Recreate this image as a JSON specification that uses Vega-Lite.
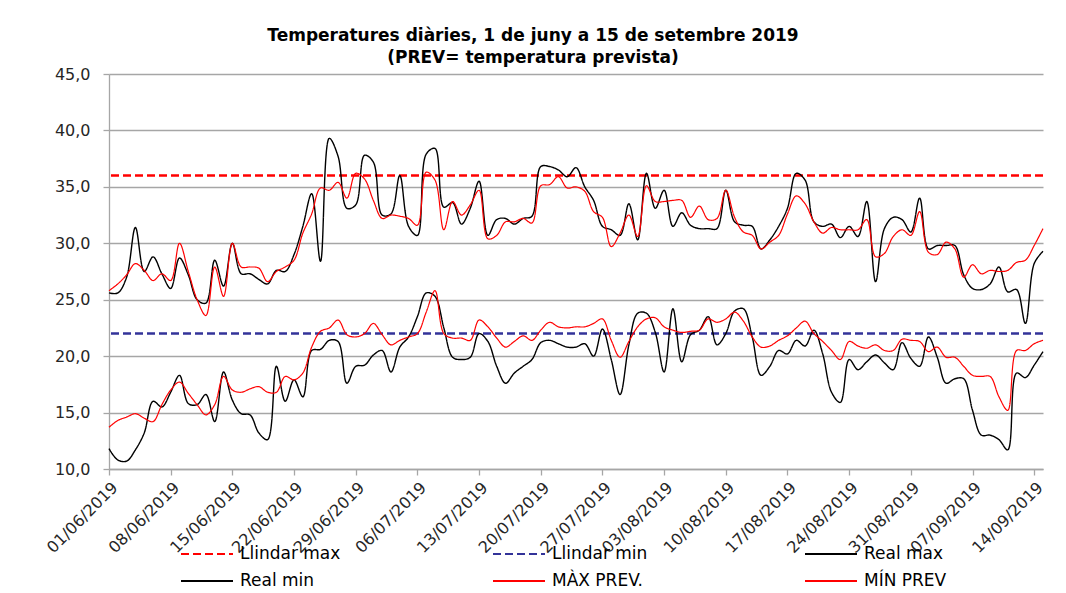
{
  "$schema": "https://vega.github.io/schema/vega-lite/v6.json",
  "autosize": {"type": "none"},
  "padding": {"left": 109, "top": 74, "right": 23, "bottom": 124},
  "width": 934,
  "height": 395,
  "background": "white",
  "title": {
    "text": ["Temperatures diàries, 1 de juny a 15 de setembre 2019", "(PREV= temperatura prevista)"],
    "font": "DejaVu Sans", "fontSize": 17, "fontWeight": "bold", "color": "#000000",
    "anchor": "middle", "dx": -43, "lineHeight": 22, "offset": -1
  },
  "config": {
    "font": "DejaVu Sans",
    "view": {"stroke": null},
    "axis": {"labelFont": "DejaVu Sans", "labelFontSize": 16, "labelColor": "#262626", "domainColor": "#a6a6a6", "tickColor": "#a6a6a6", "gridColor": "#a6a6a6", "domainWidth": 1.3, "tickWidth": 1.3, "gridWidth": 1.3}
  },
  "data": {"values": [
    {"d":"2019-06-01","rmax":25.6,"pmax":25.8,"rmin":11.8,"pmin":13.7},
    {"d":"2019-06-02","rmax":25.6,"pmax":26.4,"rmin":10.8,"pmin":14.3},
    {"d":"2019-06-03","rmax":27.0,"pmax":27.2,"rmin":10.7,"pmin":14.6},
    {"d":"2019-06-04","rmax":31.4,"pmax":28.2,"rmin":11.7,"pmin":14.9},
    {"d":"2019-06-05","rmax":27.5,"pmax":27.6,"rmin":13.2,"pmin":14.5},
    {"d":"2019-06-06","rmax":28.8,"pmax":26.7,"rmin":16.0,"pmin":14.2},
    {"d":"2019-06-07","rmax":27.3,"pmax":27.3,"rmin":15.5,"pmin":15.7},
    {"d":"2019-06-08","rmax":26.0,"pmax":26.7,"rmin":16.8,"pmin":17.0},
    {"d":"2019-06-09","rmax":28.7,"pmax":30.0,"rmin":18.3,"pmin":17.7},
    {"d":"2019-06-10","rmax":27.2,"pmax":27.5,"rmin":15.8,"pmin":16.7},
    {"d":"2019-06-11","rmax":25.0,"pmax":25.0,"rmin":15.7,"pmin":15.7},
    {"d":"2019-06-12","rmax":24.7,"pmax":23.6,"rmin":16.6,"pmin":14.8},
    {"d":"2019-06-13","rmax":28.5,"pmax":27.9,"rmin":14.2,"pmin":15.7},
    {"d":"2019-06-14","rmax":26.2,"pmax":25.3,"rmin":18.6,"pmin":18.2},
    {"d":"2019-06-15","rmax":30.0,"pmax":30.0,"rmin":16.1,"pmin":17.0},
    {"d":"2019-06-16","rmax":27.3,"pmax":27.9,"rmin":14.9,"pmin":16.8},
    {"d":"2019-06-17","rmax":27.3,"pmax":27.9,"rmin":14.8,"pmin":17.1},
    {"d":"2019-06-18","rmax":26.8,"pmax":27.8,"rmin":13.2,"pmin":17.3},
    {"d":"2019-06-19","rmax":26.4,"pmax":26.6,"rmin":12.6,"pmin":16.8},
    {"d":"2019-06-20","rmax":27.6,"pmax":27.5,"rmin":19.1,"pmin":16.8},
    {"d":"2019-06-21","rmax":27.5,"pmax":27.9,"rmin":16.0,"pmin":18.2},
    {"d":"2019-06-22","rmax":29.0,"pmax":28.5,"rmin":17.9,"pmin":17.9},
    {"d":"2019-06-23","rmax":31.5,"pmax":30.9,"rmin":16.4,"pmin":18.5},
    {"d":"2019-06-24","rmax":34.4,"pmax":32.6,"rmin":20.5,"pmin":20.8},
    {"d":"2019-06-25","rmax":28.4,"pmax":34.9,"rmin":20.6,"pmin":22.2},
    {"d":"2019-06-26","rmax":39.3,"pmax":34.7,"rmin":21.4,"pmin":22.5},
    {"d":"2019-06-27","rmax":37.7,"pmax":35.4,"rmin":21.3,"pmin":23.2},
    {"d":"2019-06-28","rmax":33.1,"pmax":34.0,"rmin":17.6,"pmin":21.9},
    {"d":"2019-06-29","rmax":33.4,"pmax":36.2,"rmin":19.1,"pmin":21.7},
    {"d":"2019-06-30","rmax":37.8,"pmax":35.7,"rmin":19.2,"pmin":22.0},
    {"d":"2019-07-01","rmax":37.2,"pmax":33.8,"rmin":20.1,"pmin":22.9},
    {"d":"2019-07-02","rmax":32.5,"pmax":32.2,"rmin":20.5,"pmin":21.9},
    {"d":"2019-07-03","rmax":32.6,"pmax":32.5,"rmin":18.6,"pmin":21.0},
    {"d":"2019-07-04","rmax":36.0,"pmax":32.4,"rmin":20.8,"pmin":21.4},
    {"d":"2019-07-05","rmax":31.5,"pmax":32.2,"rmin":21.7,"pmin":21.7},
    {"d":"2019-07-06","rmax":30.7,"pmax":31.6,"rmin":23.5,"pmin":22.0},
    {"d":"2019-07-07","rmax":37.9,"pmax":36.3,"rmin":25.6,"pmin":23.9},
    {"d":"2019-07-08","rmax":38.4,"pmax":35.6,"rmin":25.3,"pmin":25.8},
    {"d":"2019-07-09","rmax":33.2,"pmax":31.2,"rmin":22.5,"pmin":22.0},
    {"d":"2019-07-10","rmax":33.6,"pmax":33.7,"rmin":19.9,"pmin":21.6},
    {"d":"2019-07-11","rmax":31.7,"pmax":32.5,"rmin":19.7,"pmin":21.6},
    {"d":"2019-07-12","rmax":33.1,"pmax":33.4,"rmin":19.9,"pmin":21.4},
    {"d":"2019-07-13","rmax":35.5,"pmax":34.7,"rmin":22.0,"pmin":23.2},
    {"d":"2019-07-14","rmax":30.7,"pmax":30.4,"rmin":21.3,"pmin":22.6},
    {"d":"2019-07-15","rmax":32.1,"pmax":30.7,"rmin":19.1,"pmin":21.6},
    {"d":"2019-07-16","rmax":32.2,"pmax":31.9,"rmin":17.6,"pmin":20.8},
    {"d":"2019-07-17","rmax":31.7,"pmax":31.9,"rmin":18.5,"pmin":21.3},
    {"d":"2019-07-18","rmax":32.2,"pmax":32.2,"rmin":19.1,"pmin":21.8},
    {"d":"2019-07-19","rmax":32.4,"pmax":31.8,"rmin":19.7,"pmin":21.4},
    {"d":"2019-07-20","rmax":36.8,"pmax":35.1,"rmin":21.2,"pmin":22.3},
    {"d":"2019-07-21","rmax":36.8,"pmax":35.2,"rmin":21.4,"pmin":23.0},
    {"d":"2019-07-22","rmax":36.5,"pmax":35.9,"rmin":21.1,"pmin":22.6},
    {"d":"2019-07-23","rmax":35.9,"pmax":34.9,"rmin":20.8,"pmin":22.5},
    {"d":"2019-07-24","rmax":36.7,"pmax":35.0,"rmin":20.8,"pmin":22.6},
    {"d":"2019-07-25","rmax":35.0,"pmax":34.6,"rmin":21.1,"pmin":22.6},
    {"d":"2019-07-26","rmax":33.8,"pmax":32.8,"rmin":20.0,"pmin":22.9},
    {"d":"2019-07-27","rmax":31.5,"pmax":32.3,"rmin":22.4,"pmin":23.3},
    {"d":"2019-07-28","rmax":31.2,"pmax":29.7,"rmin":19.7,"pmin":21.4},
    {"d":"2019-07-29","rmax":30.7,"pmax":30.9,"rmin":16.6,"pmin":19.9},
    {"d":"2019-07-30","rmax":33.5,"pmax":32.5,"rmin":21.0,"pmin":21.3},
    {"d":"2019-07-31","rmax":30.3,"pmax":30.6,"rmin":23.8,"pmin":22.6},
    {"d":"2019-08-01","rmax":36.2,"pmax":35.1,"rmin":23.8,"pmin":23.3},
    {"d":"2019-08-02","rmax":33.1,"pmax":33.7,"rmin":22.1,"pmin":23.4},
    {"d":"2019-08-03","rmax":34.7,"pmax":33.7,"rmin":18.6,"pmin":22.6},
    {"d":"2019-08-04","rmax":31.5,"pmax":33.8,"rmin":24.2,"pmin":22.3},
    {"d":"2019-08-05","rmax":32.7,"pmax":33.8,"rmin":19.5,"pmin":22.1},
    {"d":"2019-08-06","rmax":31.6,"pmax":32.3,"rmin":21.9,"pmin":22.2},
    {"d":"2019-08-07","rmax":31.3,"pmax":33.3,"rmin":22.3,"pmin":22.3},
    {"d":"2019-08-08","rmax":31.3,"pmax":32.1,"rmin":23.5,"pmin":23.3},
    {"d":"2019-08-09","rmax":31.3,"pmax":32.2,"rmin":21.0,"pmin":23.0},
    {"d":"2019-08-10","rmax":34.7,"pmax":34.7,"rmin":22.0,"pmin":23.3},
    {"d":"2019-08-11","rmax":31.9,"pmax":32.3,"rmin":24.0,"pmin":23.9},
    {"d":"2019-08-12","rmax":31.6,"pmax":31.0,"rmin":24.2,"pmin":23.1},
    {"d":"2019-08-13","rmax":31.5,"pmax":30.7,"rmin":21.7,"pmin":21.7},
    {"d":"2019-08-14","rmax":29.5,"pmax":29.5,"rmin":18.3,"pmin":20.8},
    {"d":"2019-08-15","rmax":30.3,"pmax":30.1,"rmin":19.1,"pmin":20.9},
    {"d":"2019-08-16","rmax":31.5,"pmax":30.7,"rmin":20.5,"pmin":21.4},
    {"d":"2019-08-17","rmax":33.1,"pmax":32.6,"rmin":20.2,"pmin":21.8},
    {"d":"2019-08-18","rmax":36.2,"pmax":34.2,"rmin":21.4,"pmin":22.5},
    {"d":"2019-08-19","rmax":35.6,"pmax":33.5,"rmin":20.9,"pmin":23.1},
    {"d":"2019-08-20","rmax":31.9,"pmax":31.9,"rmin":22.3,"pmin":22.0},
    {"d":"2019-08-21","rmax":31.5,"pmax":30.9,"rmin":20.2,"pmin":21.3},
    {"d":"2019-08-22","rmax":31.7,"pmax":31.4,"rmin":16.8,"pmin":20.5},
    {"d":"2019-08-23","rmax":30.5,"pmax":31.2,"rmin":15.9,"pmin":19.7},
    {"d":"2019-08-24","rmax":31.5,"pmax":31.2,"rmin":19.7,"pmin":21.3},
    {"d":"2019-08-25","rmax":30.6,"pmax":31.2,"rmin":18.8,"pmin":20.9},
    {"d":"2019-08-26","rmax":33.7,"pmax":32.1,"rmin":19.5,"pmin":20.7},
    {"d":"2019-08-27","rmax":26.6,"pmax":28.8,"rmin":20.1,"pmin":21.0},
    {"d":"2019-08-28","rmax":31.3,"pmax":29.1,"rmin":19.4,"pmin":20.5},
    {"d":"2019-08-29","rmax":32.3,"pmax":30.6,"rmin":18.8,"pmin":20.5},
    {"d":"2019-08-30","rmax":32.1,"pmax":31.2,"rmin":21.2,"pmin":21.5},
    {"d":"2019-08-31","rmax":31.0,"pmax":30.7,"rmin":19.8,"pmin":21.4},
    {"d":"2019-09-01","rmax":34.0,"pmax":32.8,"rmin":19.1,"pmin":21.3},
    {"d":"2019-09-02","rmax":29.5,"pmax":29.2,"rmin":21.7,"pmin":20.4},
    {"d":"2019-09-03","rmax":29.8,"pmax":29.0,"rmin":19.9,"pmin":20.8},
    {"d":"2019-09-04","rmax":29.8,"pmax":30.1,"rmin":17.6,"pmin":19.9},
    {"d":"2019-09-05","rmax":29.8,"pmax":29.5,"rmin":18.0,"pmin":19.9},
    {"d":"2019-09-06","rmax":27.2,"pmax":27.0,"rmin":18.0,"pmin":19.1},
    {"d":"2019-09-07","rmax":26.0,"pmax":28.1,"rmin":15.2,"pmin":18.3},
    {"d":"2019-09-08","rmax":25.9,"pmax":27.3,"rmin":13.0,"pmin":18.2},
    {"d":"2019-09-09","rmax":26.4,"pmax":27.6,"rmin":13.0,"pmin":18.2},
    {"d":"2019-09-10","rmax":27.9,"pmax":27.5,"rmin":12.6,"pmin":16.4},
    {"d":"2019-09-11","rmax":25.7,"pmax":27.6,"rmin":11.7,"pmin":15.2},
    {"d":"2019-09-12","rmax":25.9,"pmax":28.3,"rmin":18.5,"pmin":20.5},
    {"d":"2019-09-13","rmax":22.9,"pmax":28.5,"rmin":18.1,"pmin":20.5},
    {"d":"2019-09-14","rmax":28.2,"pmax":29.8,"rmin":19.2,"pmin":21.1},
    {"d":"2019-09-15","rmax":29.3,"pmax":31.3,"rmin":20.4,"pmin":21.4}
  ]},
  "encoding": {
    "y": {
      "field": "v", "type": "quantitative",
      "scale": {"domain": [10, 45], "nice": false, "zero": false},
      "axis": {"title": null, "values": [10, 15, 20, 25, 30, 35, 40, 45], "grid": true, "tickSize": 6, "labelPadding": 13,
        "labelExpr": "replace(format(datum.value, '.1f'), '.', ',')"}
    },
    "color": {
      "field": "s", "type": "nominal",
      "scale": {"domain": ["lmax", "lmin", "rmax", "rmin", "pmax", "pmin"], "range": ["#ff0000", "#333399", "#000000", "#000000", "#ff0000", "#ff0000"]},
      "legend": {
        "title": null, "orient": "none", "legendX": 71, "legendY": 470, "direction": "horizontal", "columns": 3,
        "symbolType": "stroke", "symbolSize": 2704, "symbolStrokeWidth": 2, "clipHeight": 20, "labelFontSize": 17, "labelFont": "DejaVu Sans", "labelColor": "#000000",
        "labelOffset": 6, "columnPadding": 151, "rowPadding": 7, "gridAlign": "all", "padding": 0, "labelLimit": 300,
        "labelExpr": "datum.label == 'lmax' ? 'Llindar max' : datum.label == 'lmin' ? 'Llindar min' : datum.label == 'rmax' ? 'Real max' : datum.label == 'rmin' ? 'Real min' : datum.label == 'pmax' ? 'MÀX PREV.' : 'MÍN PREV'"
      }
    },
    "strokeDash": {
      "field": "s", "type": "nominal",
      "scale": {"domain": ["lmax", "lmin", "rmax", "rmin", "pmax", "pmin"], "range": [[8, 4], [8, 4], [1, 0], [1, 0], [1, 0], [1, 0]]},
      "legend": {
        "title": null, "orient": "none", "legendX": 71, "legendY": 470, "direction": "horizontal", "columns": 3,
        "symbolType": "stroke", "symbolSize": 2704, "symbolStrokeWidth": 2, "clipHeight": 20, "labelFontSize": 17, "labelFont": "DejaVu Sans", "labelColor": "#000000",
        "labelOffset": 6, "columnPadding": 151, "rowPadding": 7, "gridAlign": "all", "padding": 0, "labelLimit": 300,
        "labelExpr": "datum.label == 'lmax' ? 'Llindar max' : datum.label == 'lmin' ? 'Llindar min' : datum.label == 'rmax' ? 'Real max' : datum.label == 'rmin' ? 'Real min' : datum.label == 'pmax' ? 'MÀX PREV.' : 'MÍN PREV'"
      }
    }
  },
  "layer": [
    {
      "data": {"values": [{"s": "lmax", "v": 36}, {"s": "lmin", "v": 22}]},
      "mark": {"type": "rule", "strokeWidth": 2.6}
    },
    {
      "transform": [{"fold": ["rmax", "rmin"], "as": ["s", "v"]}],
      "mark": {"type": "line", "interpolate": "catmull-rom", "strokeWidth": 1.4},
      "encoding": {
        "x": {
          "field": "d", "type": "temporal",
          "scale": {"type": "utc", "domain": [1559347200000, 1568505600000], "nice": false},
          "axis": {"title": null, "format": "%d/%m/%Y", "labelAngle": -45, "grid": false, "tickSize": 6, "labelPadding": 4, "labelOverlap": false, "labelBound": false, "labelFlush": false,
            "values": [1559347200000, 1559952000000, 1560556800000, 1561161600000, 1561766400000, 1562371200000, 1562976000000, 1563580800000, 1564185600000, 1564790400000, 1565395200000, 1566000000000, 1566604800000, 1567209600000, 1567814400000, 1568419200000]}
        },
        "detail": {"field": "s"}
      }
    },
    {
      "transform": [{"fold": ["pmax", "pmin"], "as": ["s", "v"]}],
      "mark": {"type": "line", "interpolate": "catmull-rom", "strokeWidth": 1.2},
      "encoding": {
        "x": {"field": "d", "type": "temporal"},
        "detail": {"field": "s"}
      }
    }
  ]
}
